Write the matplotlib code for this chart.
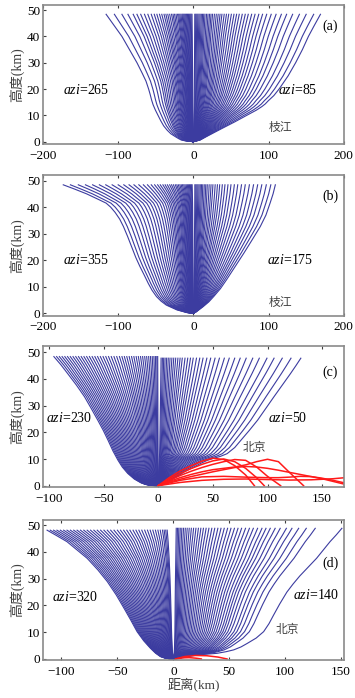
import numpy as np
import matplotlib.pyplot as plt

plt.rcParams['font.family'] = ['Liberation Serif', 'Noto Sans CJK SC']
plt.rcParams['mathtext.fontset'] = 'custom'
plt.rcParams['mathtext.it'] = 'Liberation Serif:italic'
plt.rcParams['mathtext.rm'] = 'Liberation Serif'

BLUE = '#3c3ca0'
RED = '#ff1a1a'

# outermost ray of every half fan: height (km), distance (km)
a_left_z = [0, 0.2, 0.6, 1.2, 1.9, 3, 4.4, 6, 8, 10, 12, 14, 15.8, 18, 20, 23, 26, 30, 35,
            40, 44, 48.4]
a_left_x = [0, -9, -16, -20, -24, -30, -35, -39.5, -43.5, -47, -50.5, -53.5, -55.5, -57.5,
            -59.5, -63, -68, -75, -85, -95, -105, -116]
a_right_z = [0, 0.6, 2, 3.5, 5, 7.5, 10, 12, 13.3, 14.3, 15.5, 17.5, 20, 25, 30, 35, 40,
             44, 48.4]
a_right_x = [0, 9, 18, 28, 38, 55, 71, 84, 91, 95.5, 99.5, 107, 114, 126, 136, 145, 153,
             160.5, 169]

b_left_z = [0, 0.3, 1.3, 3.1, 4.6, 6.3, 8.7, 11.3, 14.5, 17.6, 21, 25, 29, 32.7, 35.5, 38,
            40, 41.5, 43, 45, 46.8, 48.4]
b_left_x = [0, -9, -22, -36, -43, -49, -55, -60, -65.5, -71, -76.5, -82, -87.5, -93, -98,
            -104, -110, -116, -127, -142, -158, -173]
b_right_z = [0, 0.6, 2.5, 4.3, 6.3, 9.3, 12.6, 17.6, 22.6, 27.6, 32.7, 37, 41.5, 45, 48.4]
b_right_x = [0, 4, 13, 20.5, 27, 36, 44, 55.5, 67, 78, 89, 96.5, 102, 106, 109]

c_left_z = [0, 0.1, 0.5, 1.1, 2.5, 4.6, 7, 9.6, 13, 17, 20.8, 24.6, 29, 33.4, 37.7, 42,
            45.2, 48.4]
c_left_x = [0, -7, -12, -16, -22, -28, -33, -37, -41.5, -46, -50.5, -55.5, -61.5, -67.7,
            -75, -83, -89, -95.7]
c_right_z = [0, 0.2, 1, 2.1, 3.6, 5.2, 6.8, 8.4, 9.5, 10.3, 11, 12, 14.3, 17, 20.8, 24.6,
             29, 33.4, 37.7, 42, 45, 47.8]
c_right_x = [0, 2.4, 7, 11.6, 18, 24, 31.5, 39, 45, 51, 57, 63, 70, 75.6, 83.5, 91, 98.5,
             106, 113.5, 121, 126, 130.5]

d_left_z = [0, 0.1, 0.4, 0.9, 2.2, 4, 6.8, 10.2, 14.5, 18.9, 23.9, 28.9, 33.3, 37.6, 40.7,
            43.8, 46, 48.1]
d_left_x = [0, -4, -8, -11.6, -16, -20.5, -26.5, -32.4, -38, -44, -51, -59, -67.5, -77,
            -86, -95, -104, -112.8]
d_right_z = [0, 0.5, 1, 1.5, 1.8, 2.1, 2.7, 3.4, 4.5, 5.8, 7.8, 10.2, 13.2, 16.4, 20.5, 25,
             28, 31, 34.3, 37.6, 40.7, 43.8, 46.3, 48.8]
d_right_x = [0, 9, 15, 21, 30, 39, 47, 54, 60.5, 66, 74, 80.7, 85.5, 89.6, 95, 101.5, 107,
             113, 120.5, 128, 134, 140, 145.5, 150.6]

# where each ray ends at the top of the fan (km)
a_left_tops = [-116, -105, -95, -87, -80, -75, -70, -65, -60.5, -56, -52, -48.5, -45, -42,
               -39, -36.5, -34, -31.5, -29, -27, -25, -23, -21, -19.5, -18, -16.5, -15,
               -13.8, -12.6, -11.4, -10.2, -9, -7.8, -6.6, -5.4, -4.2, -3, -1.8]
a_right_tops = [169, 160, 150, 141, 132, 124, 117, 110, 103.5, 97.5, 92, 87, 82, 77.5, 73,
                69, 65, 61, 57.5, 54, 50.5, 47, 44, 41, 38, 35.5, 33, 30.5, 28, 25.5, 23.5,
                21.5, 19.5, 17.5, 15.5, 13.8, 12.2, 10.6, 9, 7.5, 6, 4.6, 3.2, 1.9]
b_left_tops = [-173, -163.5, -153, -143.5, -134, -125, -116.5, -108, -100, -92.5, -85.5,
               -79, -72.5, -66.5, -61, -56, -51.5, -47.5, -44, -40.5, -37.5, -34.5, -31.5,
               -29, -26.5, -24, -22, -20, -18, -16.2, -14.5, -12.8, -11.2, -9.6, -8.1,
               -6.7, -5.3, -4, -2.7, -1.6]
b_right_tops = [109, 103, 97, 91, 85.5, 80, 74.5, 69, 64, 59, 54.5, 50, 46, 42, 38.5, 35,
                32, 29, 26, 23.5, 21, 18.5, 16.5, 14.5, 12.5, 10.8, 9.2, 7.6, 6.1, 4.7,
                3.3, 2]
c_left_tops = [-95.5, -93, -90.5, -88, -85.5, -83, -80.5, -78, -75.5, -73, -70.5, -68,
               -65.5, -63, -60.5, -58, -55.5, -53, -50.5, -48, -45.5, -43, -40.5, -38,
               -35.5, -33.2, -31, -28.8, -26.6, -24.4, -22.3, -20.2, -18.2, -16.2, -14.3,
               -12.4, -10.6, -8.8, -7.1, -5.5, -4, -2.6, -1.3, -0.5]
c_right_tops = [130.5, 121.5, 113.5, 106, 99.5, 92.5, 86.5, 80.5, 75, 70, 65, 60.5, 56,
                52, 48, 44.5, 41, 38, 35, 32, 29.5, 27, 24.5, 22, 20, 18, 16, 14.2, 12.5,
                10.8, 9.2, 7.7, 6.3, 5, 3.8, 2.6]
d_left_tops = [-112.8, -110, -107, -104, -101, -98, -95, -92, -89, -86, -83, -80, -77,
               -74, -71, -68, -65, -62, -59, -56, -53, -50, -47.2, -44.4, -41.6, -38.8,
               -36, -33.4, -30.8, -28.2, -25.6, -23.1, -20.7, -18.3, -16, -13.8, -11.7,
               -9.7, -8.2, -6.8, -5.5]
d_right_tops = [150.6, 126.8, 118.8, 112, 106, 101, 95.5, 91, 86.6, 82.8, 79.2, 75.3,
                71.5, 68, 64.5, 61, 57.8, 54.6, 51.5, 48.5, 45.5, 42.6, 39.8, 37, 34.4,
                31.8, 29.3, 26.9, 24.6, 22.4, 20.2, 18.1, 16.1, 14.2, 12.4, 10.7, 9.1,
                7.6, 6.2, 4.9, 3.7, 2.6]

# trapped (red) rays, distance / height pairs
c_red = [
    ([0, 10, 20, 30, 40, 50, 60, 70, 80, 88], [0, 3, 5.5, 7.5, 9.2, 10.3, 9.8, 7.5, 4, 0]),
    ([0, 10, 20, 30, 40, 50, 60, 70, 80, 90, 97], [0, 2.5, 4.6, 6.4, 8, 9.3, 10, 9, 6.5, 3, 0]),
    ([0, 10, 20, 30, 40, 50, 60, 70, 80, 90, 100, 112],
     [0, 2, 3.8, 5.4, 6.8, 8, 9, 9.8, 9.5, 7, 3.5, 0]),
    ([0, 10, 20, 30, 40, 50, 60, 70, 80, 90, 100, 110, 120, 133],
     [0, 1.6, 3, 4.2, 5.2, 6, 6.5, 7, 7.8, 9, 9.9, 9, 5, 0]),
    ([0, 10, 20, 30, 40, 50, 60, 70, 80, 90, 100, 110, 120, 130, 140, 150, 160, 171],
     [0, 1.3, 2.4, 3.4, 4.3, 5.2, 6, 6.8, 7.2, 7, 6.5, 5.8, 5, 4.2, 3.4, 2.6, 1.6, 0.5]),
    ([0, 20, 40, 60, 80, 100, 110, 120, 130, 140, 150, 160, 171],
     [0, 2, 3.3, 3.5, 3.2, 3, 3, 3.2, 3.5, 3.4, 2.8, 2, 1]),
    ([0, 20, 40, 60, 80, 100, 120, 140, 160, 171],
     [0, 1.2, 2, 2.4, 2.5, 2.3, 2.1, 2.2, 2.6, 3]),
]
d_red = [
    ([2, 10, 20, 30, 40, 48], [0, 0.9, 1.3, 1.2, 0.7, 0]),
    ([2, 8, 14, 20, 25], [0, 0.4, 0.5, 0.3, 0]),
]

panels = [
    dict(rect=[0.121, 0.7937, 0.848, 0.199], xlim=(-200, 200.3), ylim=(-0.9, 51.9),
         xticks=[-200, -100, 0, 100, 200],
         fans=[(a_left_z, a_left_x, a_left_tops), (a_right_z, a_right_x, a_right_tops)],
         red=[], tag='(a)', tag_xy=(171, 43.7), left='265', left_xy=(-173, 19.6),
         right='85', right_xy=(113, 19.6), city='枝江', city_xy=(100, 5)),
    dict(rect=[0.121, 0.5477, 0.848, 0.2016], xlim=(-200, 200.3), ylim=(-0.9, 52.1),
         xticks=[-200, -100, 0, 100, 200],
         fans=[(b_left_z, b_left_x, b_left_tops), (b_right_z, b_right_x, b_right_tops)],
         red=[], tag='(b)', tag_xy=(171, 44), left='355', left_xy=(-173, 20),
         right='175', right_xy=(98, 20), city='枝江', city_xy=(100, 3.8)),
    dict(rect=[0.121, 0.3019, 0.848, 0.2029], xlim=(-105.5, 170), ylim=(-0.6, 52.5),
         xticks=[-100, -50, 0, 50, 100, 150],
         fans=[(c_left_z, c_left_x, c_left_tops), (c_right_z, c_right_x, c_right_tops)],
         red=c_red, tag='(c)', tag_xy=(150, 42.5), left='230', left_xy=(-102.7, 25.3),
         right='50', right_xy=(100, 25.3), city='北京', city_xy=(77, 14)),
    dict(rect=[0.121, 0.0544, 0.848, 0.2006], xlim=(-116.5, 152.5), ylim=(-0.4, 51.9),
         xticks=[-100, -50, 0, 50, 100, 150],
         fans=[(d_left_z, d_left_x, d_left_tops), (d_right_z, d_right_x, d_right_tops)],
         red=d_red, tag='(d)', tag_xy=(133, 35.7), left='320', left_xy=(-108, 23.3),
         right='140', right_xy=(107, 23.9), city='北京', city_xy=(91, 10.8)),
]

fig = plt.figure(figsize=(3.55, 6.98), dpi=100)

for p in panels:
    ax = fig.add_axes(p['rect'])
    # each ray follows the shape of the outermost ray of its half fan
    for prof_z, prof_x, tops in p['fans']:
        prof_x = np.array(prof_x)
        for top in tops:
            ax.plot(prof_x * top / prof_x[-1], prof_z, color=BLUE, lw=0.8)
    for rx, rz in p['red']:
        ax.plot(rx, rz, color=RED, lw=1.1)

    ax.set_xlim(p['xlim'])
    ax.set_ylim(p['ylim'])
    ax.set_xticks(p['xticks'])
    ax.set_yticks([0, 10, 20, 30, 40, 50])
    ax.tick_params(direction='in', length=2.5, width=0.8, labelsize=9.5, top=True,
                   color='#404040', pad=2)
    ax.tick_params(axis='x', pad=4)
    for s in ax.spines.values():
        s.set_color('#8a8a8a')
        s.set_linewidth(1.2)
    ax.set_ylabel('高度(km)', fontsize=10, color='#404040', labelpad=1)

    ax.text(*p['left_xy'], r'$azi$=' + p['left'], fontsize=10, va='center')
    ax.text(*p['right_xy'], r'$azi$=' + p['right'], fontsize=10, va='center')
    ax.text(*p['city_xy'], p['city'], fontsize=8.5, va='center', color='#404040')
    ax.text(*p['tag_xy'], p['tag'], fontsize=10, va='center')

ax.set_xlabel('距离(km)', fontsize=9.5, color='#404040', labelpad=0)

fig.savefig('out.png', dpi=100)
